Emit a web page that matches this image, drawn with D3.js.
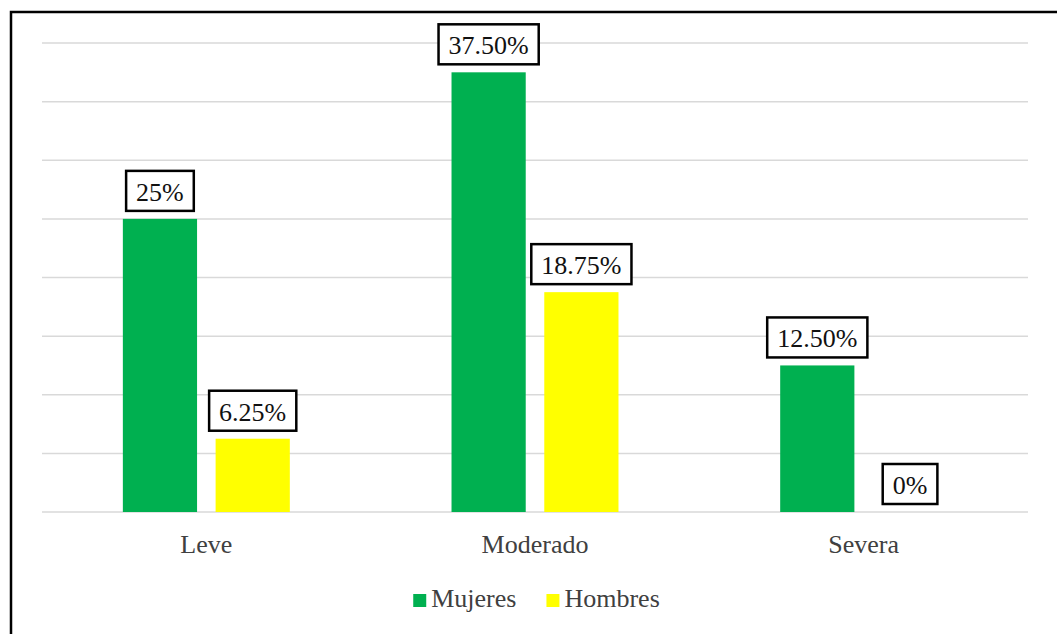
<!DOCTYPE html>
<html>
<head>
<meta charset="utf-8">
<script src="https://cdn.jsdelivr.net/npm/d3@7"></script>
</head>
<body style="margin:0;background:#fff">
<div id="chart"></div>
<script>
// Chart data
const categories = ['Leve', 'Moderado', 'Severa'];
const seriesNames = ['Mujeres', 'Hombres'];
const mujeres = [25, 37.5, 12.5];
const hombres = [6.25, 18.75, 0];
const valueLabels = {
    Mujeres: ['25%', '37.50%', '12.50%'],
    Hombres: ['6.25%', '18.75%', '0%']
};
const yTicks = [0, 5, 10, 15, 20, 25, 30, 35, 40];

const colors = { Mujeres: '#00b050', Hombres: '#ffff00' };
const FONT = "'Liberation Serif'";

// Build rows for drawing
const rows = categories.map((cat, i) => ({
    category: cat,
    values: [
        { series: 'Mujeres', value: mujeres[i], label: valueLabels.Mujeres[i] },
        { series: 'Hombres', value: hombres[i], label: valueLabels.Hombres[i] }
    ]
}));

// Small helper so every text gets the same serif face
function serif(sel, size) {
    return sel.style('font-family', FONT).attr('font-size', size);
}

function drawChart() {
    const width = 1057, height = 634;
    const plot = { left: 42, right: 1028, top: 43, bottom: 512 };

    const svg = d3.select('#chart')
        .append('svg')
        .attr('width', width)
        .attr('height', height)
        .style('display', 'block');

    // Outer frame (top and left edges visible)
    svg.append('path')
        .attr('d', `M11,${height} L11,12 L${width},12`)
        .attr('fill', 'none')
        .attr('stroke', '#000')
        .attr('stroke-width', 2.5);

    const y = d3.scaleLinear()
        .domain([0, 40])
        .range([plot.bottom, plot.top]);

    const x0 = d3.scaleBand()
        .domain(categories)
        .range([plot.left, plot.right])
        .paddingInner(0.492)
        .paddingOuter(0.246);

    const x1 = d3.scaleBand()
        .domain(seriesNames)
        .range([0, x0.bandwidth()])
        .paddingInner(0.2);

    // Gridlines
    svg.append('g')
        .selectAll('line')
        .data(yTicks)
        .enter()
        .append('line')
        .attr('x1', plot.left)
        .attr('x2', plot.right)
        .attr('y1', d => y(d))
        .attr('y2', d => y(d))
        .attr('stroke', '#d9d9d9')
        .attr('stroke-width', 1.5);

    // Category axis labels
    const xAxis = svg.append('g')
        .attr('transform', `translate(0,${plot.bottom})`)
        .call(d3.axisBottom(x0).tickSize(0).tickPadding(0));
    xAxis.select('.domain').remove();
    xAxis.attr('font-family', null);
    serif(xAxis.selectAll('text'), 26)
        .attr('dy', null)
        .attr('y', 41)
        .attr('fill', '#404040');

    const groups = svg.selectAll('.group')
        .data(rows)
        .enter()
        .append('g')
        .attr('class', 'group')
        .attr('transform', d => `translate(${x0(d.category)},0)`);

    // Bars
    groups.selectAll('rect.bar')
        .data(d => d.values)
        .enter()
        .append('rect')
        .attr('class', 'bar')
        .attr('x', d => x1(d.series))
        .attr('y', d => y(d.value))
        .attr('width', x1.bandwidth())
        .attr('height', d => y(0) - y(d.value))
        .attr('fill', d => colors[d.series]);

    // Boxed data labels
    const labels = groups.selectAll('g.label')
        .data(d => d.values)
        .enter()
        .append('g')
        .attr('class', 'label');

    labels.each(function(d) {
        const g = d3.select(this);
        const cx = x1(d.series) + x1.bandwidth() / 2;
        const boxBottom = y(d.value) - 8;
        const txt = serif(g.append('text'), 26)
            .attr('x', cx)
            .attr('y', boxBottom - 10)
            .attr('text-anchor', 'middle')
            .attr('fill', '#111')
            .text(d.label);
        const w = txt.node().getComputedTextLength() + 20;
        g.insert('rect', 'text')
            .attr('x', cx - w / 2)
            .attr('y', boxBottom - 40)
            .attr('width', w)
            .attr('height', 40)
            .attr('fill', '#fff')
            .attr('stroke', '#000')
            .attr('stroke-width', 2.5);
    });

    // Legend
    const legend = svg.append('g').attr('class', 'legend');
    let lx = 0;
    seriesNames.forEach(name => {
        const item = legend.append('g').attr('transform', `translate(${lx},0)`);
        item.append('rect')
            .attr('x', 0)
            .attr('y', -13)
            .attr('width', 13)
            .attr('height', 13)
            .attr('fill', colors[name]);
        const t = serif(item.append('text'), 26)
            .attr('x', 18)
            .attr('y', 0)
            .attr('fill', '#404040')
            .text(name);
        lx += 18 + t.node().getComputedTextLength() + 30;
    });
    const legendWidth = lx - 30;
    legend.attr('transform', `translate(${(width - legendWidth) / 2 + 8},607)`);
}

drawChart();
</script>
</body>
</html>
